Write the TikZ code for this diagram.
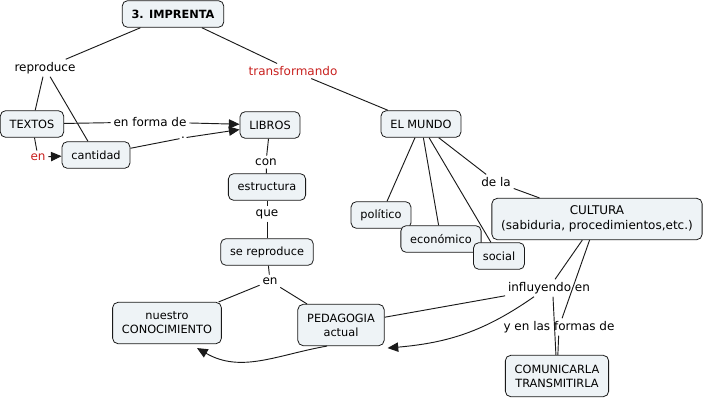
\documentclass[tikz,border=0pt]{standalone}
\usepackage{fontspec}
\setmainfont{DejaVu Sans}
\usepackage{xcolor}
\usetikzlibrary{arrows.meta,calc}
\definecolor{cFill}{HTML}{EEF3F6}
\definecolor{cLink}{HTML}{C8201E}
\definecolor{cLine}{HTML}{1A1A1A}
\tikzset{
  >={Triangle[length=8pt,width=7pt]},
  concept/.style={draw=cLine,line width=0.6pt,rounded corners=4pt,fill=cFill,
    inner xsep=7pt,inner ysep=3pt,minimum height=20pt,align=center,
    font=\fontsize{8.5}{10.5}\selectfont},
  tall/.style={minimum height=31pt},
  phrase/.style={inner sep=2pt,font=\fontsize{9}{11}\selectfont},
  redphrase/.style={phrase,text=cLink},
  conn/.style={cLine,line width=0.7pt},
}

\begin{document}
\begin{tikzpicture}[x=0.75pt,y=-0.75pt]
  \useasboundingbox (0,0) rectangle (708,400);
  % concepts
  \node[concept,font=\fontsize{8.5}{10.5}\selectfont\bfseries] (imprenta) at (173,14) {3. IMPRENTA};
  \node[concept] (textos) at (32,124) {TEXTOS};
  \node[concept] (cantidad) at (96,155) {cantidad};
  \node[concept] (libros) at (270,125) {LIBROS};
  \node[concept] (estructura) at (267,187) {estructura};
  \node[concept] (sereproduce) at (267,252) {se reproduce};
  \node[concept,tall] (conocimiento) at (167,323) {nuestro\\CONOCIMIENTO};
  \node[concept,tall] (pedagogia) at (341,325) {PEDAGOGIA\\actual};
  \node[concept] (mundo) at (421,124) {EL MUNDO};
  \node[concept] (politico) at (381,215) {político};
  \node[concept] (economico) at (441,239) {económico};
  \node[concept] (social) at (499,256) {social};
  \node[concept,tall,font=\fontsize{9}{11}\selectfont] (cultura) at (597,219) {CULTURA\\(sabiduria, procedimientos,etc.)};
  \node[concept,tall] (comunicar) at (557,376) {COMUNICARLA\\TRANSMITIRLA};
  % linking phrases
  \node[phrase] (reproduce) at (45,68) {reproduce};
  \node[redphrase] (transformando) at (293,71) {transformando};
  \node[phrase] (enforma) at (150,122) {en forma de};
  \node[phrase,inner sep=1pt] (punto) at (183,138) {.};
  \node[redphrase] (en) at (38,157) {en};
  \node[phrase] (con) at (266,162) {con};
  \node[phrase] (que) at (267,214) {que};
  \node[phrase] (enped) at (270,281) {en};
  \node[phrase] (dela) at (496,182) {de la};
  \node[phrase] (influ) at (549,288) {influyendo en};
  \node[phrase] (yformas) at (559,327) {y en las formas de};
  % connectors
  \draw[conn] (imprenta) -- (reproduce);
  \draw[conn] (reproduce) -- (textos);
  \draw[conn] (reproduce) -- (cantidad);
  \draw[conn] (textos) -- (enforma);
  \draw[conn,->] (enforma) -- (libros);
  \draw[conn] (cantidad) -- (punto);
  \draw[conn,->] (punto) -- (libros);
  \draw[conn] (textos) -- (en);
  \draw[conn,->] (en) -- (cantidad);
  \draw[conn] (imprenta) -- (transformando);
  \draw[conn] (transformando) -- (mundo);
  \draw[conn] (libros) -- (con);
  \draw[conn] (con) -- (estructura);
  \draw[conn] (estructura) -- (que);
  \draw[conn] (que) -- (sereproduce);
  \draw[conn] (sereproduce) -- (enped);
  \draw[conn] (enped) -- (conocimiento);
  \draw[conn] (enped) -- (pedagogia);
  \draw[conn] (mundo) -- (politico);
  \draw[conn] (mundo) -- (economico);
  \draw[conn] (mundo) -- (social);
  \draw[conn] (mundo) -- (dela);
  \draw[conn] (dela) -- (cultura);
  \draw[conn] (cultura) -- (influ);
  \draw[conn] (cultura) -- (yformas);
  \draw[conn] (influ) -- (pedagogia);
  \draw[conn] ($(influ.south)+(4,0)$) -- (comunicar);
  \draw[conn] (yformas) -- (comunicar);
  \draw[conn,->] ($(influ.south)+(-15,0)$) to[out=215,in=5] ($(pedagogia.south east)+(3,2)$);
  \draw[conn,->] ($(pedagogia.south)+(-14,0)$) to[out=190,in=-30] ($(conocimiento.south)+(30,4)$);
\end{tikzpicture}
\end{document}
